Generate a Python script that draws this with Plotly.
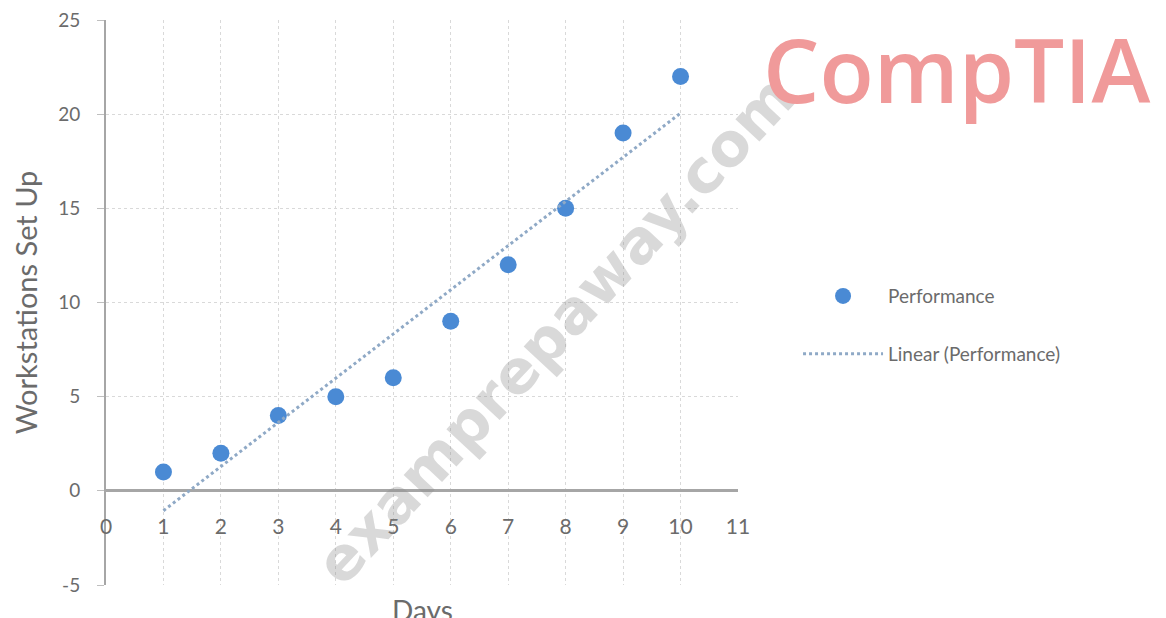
import numpy as np
import plotly.graph_objects as go

# ---- data ----
days = [1, 2, 3, 4, 5, 6, 7, 8, 9, 10]
workstations = [1, 2, 4, 5, 6, 9, 12, 15, 19, 22]
x_ticks = list(range(0, 12))
y_ticks = [-5, 0, 5, 10, 15, 20, 25]

# linear trendline (least squares, as the spreadsheet trendline)
slope, intercept = np.polyfit(days, workstations, 1)
trend_x = [days[0], days[-1]]
trend_y = [slope * v + intercept for v in trend_x]

FONT = "Lato, 'Open Sans', sans-serif"
TXT = "#6b6b6b"

fig = go.Figure()
fig.add_trace(go.Scatter(
    x=days, y=workstations, mode="markers", name="Performance",
    marker=dict(size=17, color="#4a8ad4"),
    legendgroup="a",
))
fig.add_trace(go.Scatter(
    x=trend_x, y=trend_y, mode="lines", name="Linear (Performance)",
    line=dict(color="#8fa9c6", width=3, dash="dot"),
    legendgroup="b",
))

fig.update_layout(
    width=1166, height=618,
    margin=dict(l=98, r=436, t=12, b=41, autoexpand=False),
    paper_bgcolor="white", plot_bgcolor="white",
    font=dict(family=FONT, color=TXT, size=18),
    legend=dict(
        x=1.095, xanchor="left", y=0.46, yanchor="middle",
        xref="paper", yref="paper",
        itemwidth=80, tracegroupgap=30, traceorder="grouped",
        font=dict(size=19, color=TXT),
        bgcolor="rgba(0,0,0,0)",
    ),
    showlegend=True,
)

fig.update_xaxes(
    range=[0, 11], tickvals=x_ticks, ticktext=[str(v) for v in x_ticks],
    showgrid=True, gridcolor="#d9d9d9", griddash="dot", gridwidth=1,
    zeroline=False, showline=False, automargin=False,
    anchor="free", position=0.13,
    ticks="", tickfont=dict(size=21, color=TXT),
)
fig.update_yaxes(
    range=[-5, 25], tickvals=y_ticks, ticktext=[str(v) for v in y_ticks],
    showgrid=True, gridcolor="#d9d9d9", griddash="dot", gridwidth=1,
    zeroline=True, zerolinecolor="#a6a6a6", zerolinewidth=2.5,
    showline=True, linecolor="#a6a6a6", linewidth=2,
    ticks="outside", ticklen=7, tickcolor="#bfbfbf", automargin=False,
    ticklabelstandoff=13, ticklabeloverflow="allow",
    tickfont=dict(size=19, color=TXT),
    title=dict(text="Workstations Set Up", font=dict(size=29, color=TXT), standoff=14),
)

# x axis title (cut off at the bottom edge like the reference)
fig.add_annotation(
    text="Days", xref="paper", yref="paper", x=0.5, y=0, yshift=-6,
    xanchor="center", yanchor="top", showarrow=False,
    font=dict(size=28, color=TXT),
)

# watermark and logo
fig.add_annotation(
    text="<b>examprepaway.com</b>", xref="paper", yref="paper",
    x=(555 - 106) / 632, y=(585 - 330) / 565, xanchor="center", yanchor="middle",
    showarrow=False,
    textangle=-47, font=dict(size=60, color="rgba(140,140,140,0.33)",
                             family="'DejaVu Sans', sans-serif"),
)
fig.add_annotation(
    text="CompTIA", xref="paper", yref="paper",
    x=(1152 - 106) / 632, y=(585 - 68) / 565, xanchor="right", yanchor="middle",
    showarrow=False,
    font=dict(size=89, color="#f09a9a", family="'Open Sans', sans-serif", weight=600),
)

fig.write_html("out.html")
